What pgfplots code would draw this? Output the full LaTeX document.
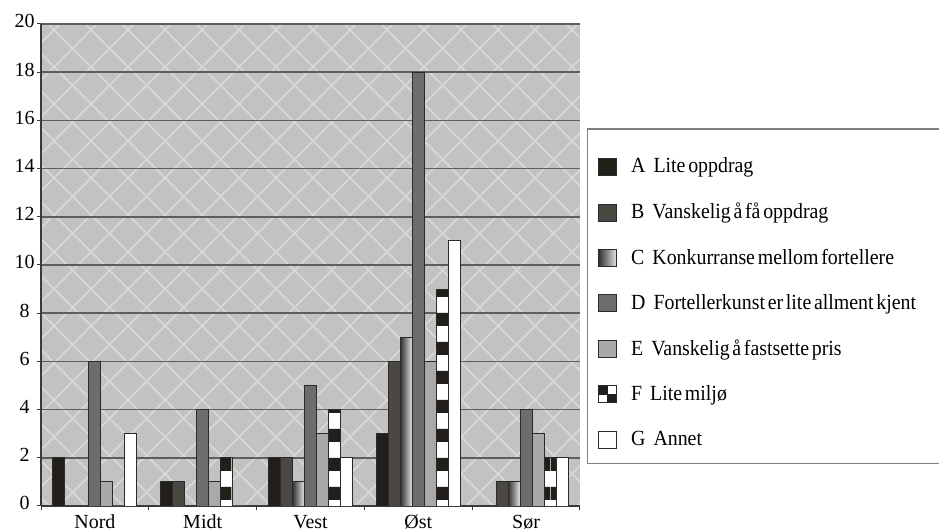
\documentclass[border=0pt]{standalone}
\usepackage{pgfplots}
\pgfplotsset{compat=1.18}
\usepackage{fontspec}
\setmainfont{Liberation Serif}
\newfontfamily\legfont{Liberation Serif}[FakeStretch=0.92, WordSpace=0.55]
\usetikzlibrary{patterns,patterns.meta}

\definecolor{bgGray}{HTML}{C2C2C2}
\definecolor{bgLight}{HTML}{D9D9D9}
\definecolor{gridGray}{HTML}{5E5E5E}
\definecolor{axisDark}{HTML}{3A3A3A}
\definecolor{barA}{HTML}{221E1A}
\definecolor{barB}{HTML}{4B4743}
\definecolor{barD}{HTML}{6D6D6D}
\definecolor{barE}{HTML}{A9A9A9}
\definecolor{barEdge}{HTML}{2A2A2A}
\definecolor{legBorder}{HTML}{808080}

\pgfdeclarepattern{
  name=diamondlattice,
  type=uncolored,
  bottom left={\pgfpoint{0pt}{0pt}},
  top right={\pgfpoint{18.3pt}{18.3pt}},
  tile size={\pgfpoint{18.3pt}{18.3pt}},
  code={
    \pgfsetlinewidth{0.8pt}
    \pgfpathmoveto{\pgfpoint{-1pt}{-1pt}}\pgfpathlineto{\pgfpoint{19.3pt}{19.3pt}}
    \pgfpathmoveto{\pgfpoint{-1pt}{19.3pt}}\pgfpathlineto{\pgfpoint{19.3pt}{-1pt}}
    \pgfusepath{stroke}
  }
}
\pgfdeclarepattern{
  name=hstripes,
  type=uncolored,
  bottom left={\pgfpoint{0pt}{0pt}},
  top right={\pgfpoint{14.6pt}{14.6pt}},
  tile size={\pgfpoint{14.6pt}{14.6pt}},
  code={
    \pgfpathrectangle{\pgfpoint{0pt}{0pt}}{\pgfpoint{14.6pt}{6.8pt}}
    \pgfusepath{fill}
  }
}
\gdef\inlegend{0}
\gdef\drawchecker{0}
\tikzset{
  Cstyle/.style={left color=black!80, right color=black!10},
  Fstyle/.code={%
    \ifnum\inlegend=1
      \gdef\drawchecker{1}%
      \pgfkeysalso{fill=white}%
    \else
      \pgfkeysalso{fill=white, postaction={pattern=hstripes, pattern color=barA}}%
    \fi},
}

\begin{document}
\begin{tikzpicture}
\begin{axis}[
  name=ax,
  scale only axis, width=269.5pt, height=241pt,
  ybar, bar width=6pt,
  xmin=-0.5, xmax=4.5, ymin=0, ymax=20,
  xtick={-0.5,0.5,1.5,2.5,3.5,4.5},
  x tick label as interval,
  xticklabels={Nord,Midt,Vest,Øst,Sør},
  ytick={0,2,...,20},
  tick align=outside,
  major tick length=2pt,
  tick style={axisDark, line width=0.5pt},
  ymajorgrids,
  major grid style={gridGray, line width=0.8pt},
  axis x line*=bottom, axis y line*=left,
  axis line style={axisDark, line width=0.7pt, -},
  axis background/.style={fill=bgGray, postaction={pattern=diamondlattice, pattern color=bgLight}},
  tick label style={font=\fontsize{10}{12}\selectfont},
  /pgf/number format/assume math mode=true,
  xticklabel style={inner sep=0pt, yshift=-2.3pt},
  yticklabel style={text width=12pt, align=center, inner sep=0pt, yshift=1.3pt},
  legend style={draw=none, fill=none, at={(1.0334,0.723)}, anchor=north west,
    inner sep=0pt, row sep=13.6pt, column sep=7pt,
    /utils/exec={\gdef\inlegend{1}},
    font=\legfont\fontsize{10.8}{12}\selectfont, nodes={inner sep=0pt}},
  legend cell align=left,
  legend image code/.code={
    \draw[#1, draw=barEdge, line width=0.4pt] (0pt,-4.25pt) rectangle (9pt,4.25pt);
    \ifnum\drawchecker=1
      \fill[barA] (0pt,0pt) rectangle (4.5pt,4.25pt);
      \fill[barA] (4.5pt,-4.25pt) rectangle (9pt,0pt);
      \draw[barEdge, fill=none, line width=0.4pt] (0pt,-4.25pt) rectangle (9pt,4.25pt);
    \fi
    \gdef\drawchecker{0}},
  every axis plot/.append style={draw=barEdge, line width=0.4pt},
]
\addplot[fill=barA, bar shift=-18pt] coordinates {(0,2) (1,1) (2,2) (3,3) (4,0)};
\addlegendentry{A\hspace{4pt}Lite oppdrag}
\addplot[fill=barB, bar shift=-12pt] coordinates {(0,0) (1,1) (2,2) (3,6) (4,1)};
\addlegendentry{B\hspace{4pt}Vanskelig å få oppdrag}
\addplot[Cstyle, draw=barEdge, bar shift=-6pt] coordinates {(2,1)};
\addlegendentry{C\hspace{4pt}Konkurranse mellom fortellere}
\addplot[Cstyle, draw=barEdge, bar shift=-6pt, forget plot] coordinates {(3,7)};
\addplot[Cstyle, draw=barEdge, bar shift=-6pt, forget plot] coordinates {(4,1)};
\addplot[fill=barD, bar shift=0pt] coordinates {(0,6) (1,4) (2,5) (3,18) (4,4)};
\addlegendentry{D\hspace{4pt}Fortellerkunst er lite allment kjent}
\addplot[fill=barE, bar shift=6pt] coordinates {(0,1) (1,1) (2,3) (3,6) (4,3)};
\addlegendentry{E\hspace{4pt}Vanskelig å fastsette pris}
\addplot[Fstyle, bar shift=12pt] coordinates {(0,0) (1,2) (2,4) (3,9) (4,2)};
\addlegendentry{F\hspace{4pt}Lite miljø}
\addplot[fill=white, bar shift=18pt] coordinates {(0,3) (1,0) (2,2) (3,11) (4,2)};
\addlegendentry{G\hspace{4pt}Annet}
\end{axis}
\draw[legBorder, line width=0.75pt] ([shift={(273.35pt,21.35pt)}]ax.south west) rectangle ([shift={(451pt,188.5pt)}]ax.south west);
\pgfresetboundingbox
\useasboundingbox ([shift={(-20.5pt,-11.5pt)}]ax.south west) rectangle ([shift={(449pt,253pt)}]ax.south west);
\end{tikzpicture}
\end{document}
